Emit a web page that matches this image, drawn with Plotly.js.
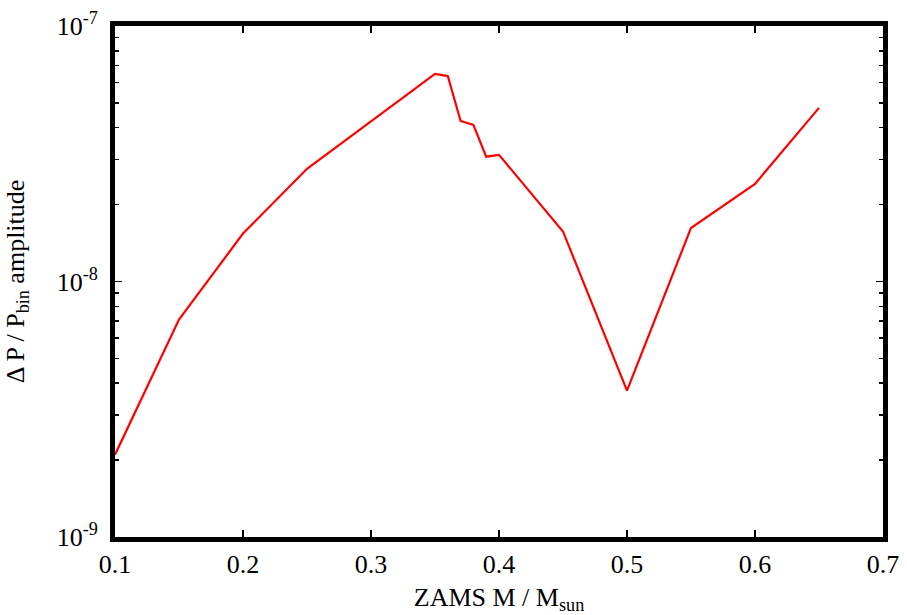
<!DOCTYPE html>
<html>
<head>
<meta charset="utf-8">
<script src="https://cdn.plot.ly/plotly-3.0.1.min.js"></script>
<style>html,body{margin:0;padding:0;background:#fff;}#chart{width:907px;height:615px;}</style>
</head>
<body>
<div id="chart"></div>
<script>
const massZAMS = [0.10, 0.15, 0.20, 0.25, 0.35, 0.36, 0.37, 0.38, 0.39, 0.40, 0.45, 0.50, 0.55, 0.60, 0.65];
const amplitude = [2.1e-9, 7.1e-9, 1.54e-8, 2.76e-8, 6.49e-8, 6.37e-8, 4.25e-8, 4.10e-8, 3.08e-8, 3.13e-8, 1.57e-8, 3.74e-9, 1.62e-8, 2.41e-8, 4.78e-8];
const yTickVals = [1e-9, 1e-8, 1e-7];
const yTickText = ['10<sup>-9</sup>', '10<sup>-8</sup>', '10<sup>-7</sup>'];
const xTickVals = [0.1, 0.2, 0.3, 0.4, 0.5, 0.6, 0.7];
const xTickText = ['0.1', '0.2', '0.3', '0.4', '0.5', '0.6', '0.7'];

const font = {family: 'Liberation Serif, Times New Roman, serif', size: 26, color: '#000'};

const trace = {
  x: massZAMS, y: amplitude, type: 'scatter', mode: 'lines',
  line: {color: '#ff0000', width: 2.2}, showlegend: false, hoverinfo: 'skip'
};

const layout = {
  width: 907, height: 615,
  margin: {l: 115, r: 23.5, t: 25.5, b: 78},
  paper_bgcolor: '#fff', plot_bgcolor: '#fff',
  font: font,
  showlegend: false,
  xaxis: {
    range: [0.1, 0.7], tickvals: xTickVals, ticktext: xTickText,
    ticks: 'inside', ticklen: 7, tickwidth: 1.5, tickcolor: '#000',
    showline: true, linewidth: 5, linecolor: '#000', mirror: 'allticks',
    showgrid: false, zeroline: false, tickfont: font,
    title: {text: 'ZAMS M / M<sub>sun</sub>', font: font, standoff: 12}
  },
  yaxis: {
    type: 'log', range: [-9, -7], tickvals: yTickVals, ticktext: yTickText,
    ticks: 'inside', ticklen: 7, tickwidth: 1.5, tickcolor: '#000',
    minor: {ticks: 'inside', ticklen: 4, tickwidth: 1.5, tickcolor: '#000', dtick: 'D1', showgrid: false},
    showline: true, linewidth: 5, linecolor: '#000', mirror: 'allticks',
    showgrid: false, zeroline: false, tickfont: font, ticklabelstandoff: 7,
    title: {text: '\u0394 P / P<sub>bin</sub> amplitude', font: font, standoff: 26}
  }
};

Plotly.newPlot('chart', [trace], layout, {displayModeBar: false, staticPlot: true});
</script>
</body>
</html>
